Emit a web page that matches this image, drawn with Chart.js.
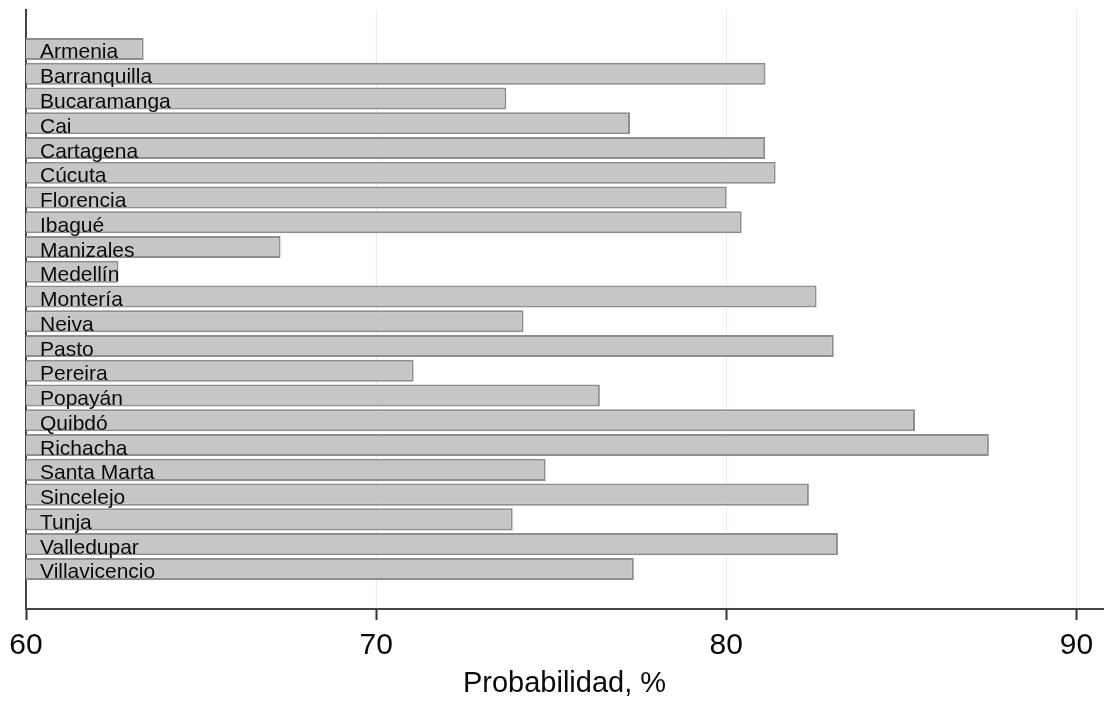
<!DOCTYPE html>
<html>
<head>
<meta charset="utf-8">
<title>Probabilidad por ciudad</title>
<script src="https://cdn.jsdelivr.net/npm/chart.js@4/dist/chart.umd.min.js"></script>
<style>
  html, body { margin: 0; padding: 0; background: #fff; }
  #wrap { width: 1119px; height: 706px; position: relative; }
</style>
</head>
<body>
<div id="wrap"><canvas id="chart"></canvas></div>
<script>
// city labels, top to bottom, as printed in the figure
const cities = ['Armenia', 'Barranquilla', 'Bucaramanga', 'Cai', 'Cartagena', 'Cúcuta',
  'Florencia', 'Ibagué', 'Manizales', 'Medellín', 'Montería', 'Neiva', 'Pasto',
  'Pereira', 'Popayán', 'Quibdó', 'Richacha', 'Santa Marta', 'Sincelejo', 'Tunja',
  'Valledupar', 'Villavicencio'];

// probability (%)
const probs = [63.36, 81.12, 73.72, 77.25, 81.11, 81.41, 80.01, 80.44, 67.27, 62.64,
  82.58, 74.21, 83.07, 71.07, 76.39, 85.39, 87.5, 74.84, 82.36, 73.9, 83.19, 77.36];

const xTicks = [60, 70, 80, 90];
const xTitle = 'Probabilidad, %';

const FONT = '"Liberation Sans", Arial, Helvetica, sans-serif';

// city names written inside the bars, near the axis
const barLabels = {
  id: 'barLabels',
  afterDatasetsDraw(chart) {
    const ctx = chart.ctx;
    const yScale = chart.scales.y;
    const left = chart.chartArea.left;
    ctx.save();
    ctx.font = '21px ' + FONT;
    ctx.fillStyle = '#0a0a0a';
    ctx.textAlign = 'left';
    ctx.textBaseline = 'alphabetic';
    cities.forEach(function(name, i) {
      ctx.fillText(name, left + 14, yScale.getPixelForValue(i) + 9.5);
    });
    ctx.restore();
  }
};

const points = probs.map(function(v, i) { return { x: v, y: i }; });

new Chart(document.getElementById('chart'), {
  type: 'bar',
  data: {
    datasets: [{
      data: points,
      backgroundColor: '#c6c6c6',
      borderColor: '#8e8e8e',
      borderWidth: 2,
      borderSkipped: 'start',
      categoryPercentage: 1,
      barPercentage: 0.89
    }]
  },
  options: {
    indexAxis: 'y',
    responsive: true,
    maintainAspectRatio: false,
    animation: false,
    layout: { padding: { left: 26, right: 16, top: 10, bottom: 0 } },
    plugins: {
      legend: { display: false },
      tooltip: { enabled: false }
    },
    scales: {
      x: {
        type: 'linear',
        position: 'bottom',
        min: 60,
        max: 90.76,
        afterBuildTicks: function(scale) {
          scale.ticks = xTicks.map(function(v) { return { value: v }; });
        },
        afterFit: function(scale) { scale.height = 97; },
        ticks: {
          includeBounds: false,
          color: '#0a0a0a',
          padding: 8,
          maxRotation: 0,
          font: { family: FONT, size: 30 }
        },
        grid: {
          color: '#e4eeee',
          lineWidth: 1,
          tickColor: '#333',
          tickWidth: 2,
          tickLength: 11
        },
        border: { display: true, color: '#444', width: 2 },
        title: {
          display: true,
          text: xTitle,
          color: '#0a0a0a',
          padding: { top: 0, bottom: 5 },
          font: { family: FONT, size: 29 }
        }
      },
      y: {
        type: 'linear',
        reverse: true,
        offset: false,
        min: -1.575,
        max: 22.62,
        afterFit: function(scale) { scale.width = 0; },
        ticks: { display: false },
        grid: { display: false, offset: false },
        border: { display: true, color: '#444', width: 2 }
      }
    }
  },
  plugins: [barLabels]
});
</script>
</body>
</html>
